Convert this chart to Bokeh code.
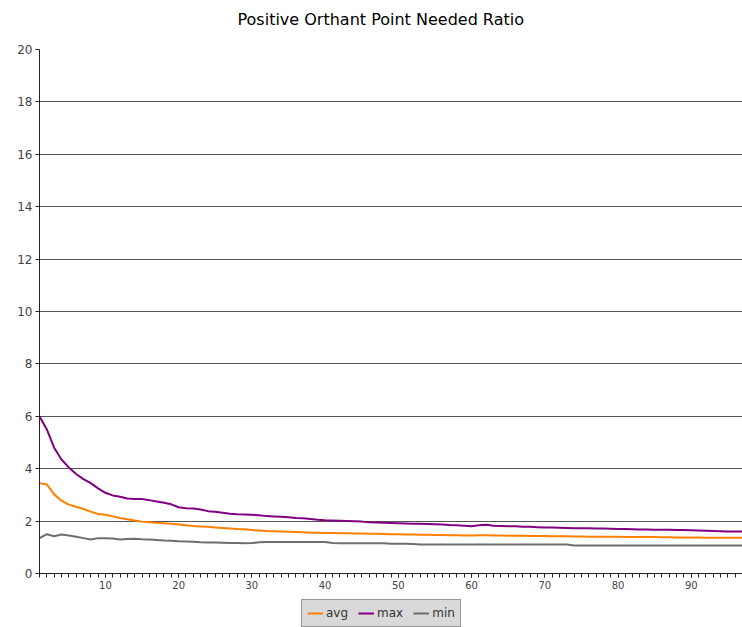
from bokeh.plotting import figure
from bokeh.models import Range1d, SingleIntervalTicker, Legend, LegendItem, Title
from bokeh.layouts import column
from bokeh.embed import file_html
from bokeh.resources import INLINE

x_vals = list(range(1, 98))

avg_vals = [3.45, 3.40, 3.02, 2.78, 2.63, 2.55, 2.46, 2.36, 2.27, 2.24,
            2.18, 2.12, 2.07, 2.02, 1.98, 1.96, 1.94, 1.92, 1.90, 1.87,
            1.84, 1.81, 1.79, 1.78, 1.76, 1.74, 1.72, 1.70, 1.69, 1.66,
            1.64, 1.62, 1.61, 1.60, 1.59, 1.58, 1.57, 1.56, 1.56, 1.55,
            1.55, 1.54, 1.54, 1.53, 1.53, 1.52, 1.52, 1.51, 1.50, 1.50,
            1.49, 1.49, 1.48, 1.48, 1.47, 1.47, 1.46, 1.46, 1.45, 1.45,
            1.46, 1.46, 1.45, 1.45, 1.44, 1.44, 1.44, 1.43, 1.43, 1.43,
            1.42, 1.42, 1.42, 1.41, 1.41, 1.40, 1.40, 1.40, 1.40, 1.40,
            1.39, 1.39, 1.39, 1.39, 1.39, 1.38, 1.38, 1.37, 1.37, 1.37,
            1.37, 1.36, 1.36, 1.36, 1.36, 1.36, 1.36]

max_vals = [6.00, 5.50, 4.80, 4.35, 4.05, 3.80, 3.60, 3.45, 3.25, 3.08,
            2.98, 2.93, 2.86, 2.84, 2.84, 2.80, 2.75, 2.70, 2.64, 2.53,
            2.49, 2.48, 2.44, 2.38, 2.36, 2.32, 2.28, 2.26, 2.25, 2.24,
            2.22, 2.19, 2.18, 2.17, 2.15, 2.12, 2.11, 2.08, 2.05, 2.03,
            2.02, 2.01, 2.00, 1.99, 1.98, 1.96, 1.95, 1.94, 1.93, 1.92,
            1.91, 1.90, 1.90, 1.89, 1.88, 1.87, 1.85, 1.84, 1.82, 1.80,
            1.84, 1.86, 1.82, 1.81, 1.80, 1.80, 1.78, 1.78, 1.77, 1.76,
            1.76, 1.75, 1.74, 1.73, 1.73, 1.73, 1.72, 1.72, 1.71, 1.70,
            1.70, 1.69, 1.68, 1.68, 1.67, 1.67, 1.67, 1.66, 1.66, 1.65,
            1.64, 1.63, 1.62, 1.61, 1.60, 1.60, 1.60]

min_vals = [1.35, 1.50, 1.42, 1.49, 1.45, 1.40, 1.35, 1.30, 1.35, 1.35,
            1.34, 1.30, 1.32, 1.33, 1.31, 1.30, 1.28, 1.26, 1.25, 1.23,
            1.22, 1.21, 1.19, 1.18, 1.18, 1.17, 1.16, 1.16, 1.15, 1.16,
            1.19, 1.20, 1.20, 1.20, 1.20, 1.20, 1.20, 1.20, 1.20, 1.20,
            1.16, 1.15, 1.15, 1.15, 1.15, 1.15, 1.15, 1.15, 1.14, 1.14,
            1.14, 1.13, 1.11, 1.11, 1.11, 1.11, 1.11, 1.11, 1.11, 1.11,
            1.11, 1.11, 1.11, 1.11, 1.11, 1.11, 1.11, 1.11, 1.11, 1.11,
            1.11, 1.11, 1.11, 1.07, 1.07, 1.07, 1.07, 1.07, 1.07, 1.07,
            1.07, 1.07, 1.07, 1.07, 1.07, 1.07, 1.07, 1.07, 1.07, 1.07,
            1.07, 1.07, 1.07, 1.07, 1.07, 1.07, 1.07]

series_names = ["avg", "max", "min"]
series_colors = ["#ff7f00", "#800080", "#6e6e6e"]
series_values = [avg_vals, max_vals, min_vals]

FONT = "DejaVu Sans"

p = figure(frame_width=703, frame_height=524, x_range=Range1d(1, 97), y_range=Range1d(0, 20),
           output_backend="svg", toolbar_location=None,
           min_border_left=39, min_border_right=0, min_border_top=49, min_border_bottom=26)

# spacer between the title and the frame
spacer = Title(text=" ", text_font_size="8px", standoff=5)
p.add_layout(spacer, "above")

p.title.text = "Positive Orthant Point Needed Ratio"
p.title.text_font = FONT
p.title.text_font_size = "16px"
p.title.text_font_style = "normal"
p.title.text_color = "#000000"
p.title.align = "left"
p.title.offset = 198
p.title.standoff = 10

p.outline_line_color = None
p.background_fill_color = "white"
p.border_fill_color = "white"

p.xgrid.grid_line_color = None
p.ygrid.grid_line_color = "#555555"
p.ygrid.grid_line_width = 1
p.ygrid.ticker = SingleIntervalTicker(interval=2)

p.yaxis.ticker = SingleIntervalTicker(interval=2, num_minor_ticks=0)
p.xaxis.ticker = SingleIntervalTicker(interval=10, num_minor_ticks=10)

for ax in (p.xaxis[0], p.yaxis[0]):
    ax.axis_line_color = "#222222"
    ax.major_tick_line_color = "#222222"
    ax.minor_tick_line_color = "#222222"
    ax.major_tick_in = 0
    ax.major_tick_out = 4
    ax.minor_tick_in = 0
    ax.minor_tick_out = 4
    ax.major_label_text_font = FONT
    ax.major_label_text_color = "#444444"
    ax.major_label_standoff = 3
p.xaxis.major_label_text_font_size = "10px"
p.yaxis.major_label_text_font_size = "12px"
p.yaxis.minor_tick_line_color = None

for vals, col in zip(series_values, series_colors):
    p.line(x_vals, vals, line_color=col, line_width=2)

# legend strip below the chart (proxy lines lie outside its 0..1 view, only the key shows)
lf = figure(width=742, height=28, x_range=Range1d(0, 1), y_range=Range1d(0, 1),
            output_backend="svg", toolbar_location=None,
            x_axis_location=None, y_axis_location=None,
            min_border_left=0, min_border_right=0, min_border_top=0, min_border_bottom=0)
lf.grid.grid_line_color = None
lf.outline_line_color = None
lf.background_fill_color = "white"
lf.border_fill_color = "white"

leg_renderers = []
for vals, col in zip(series_values, series_colors):
    leg_renderers.append(lf.line(x_vals, vals, line_color=col, line_width=2))

legend = Legend(items=[LegendItem(label=n, renderers=[r]) for n, r in zip(series_names, leg_renderers)],
                orientation="horizontal", location=(262, 0))
legend.background_fill_color = "#d9d9d9"
legend.background_fill_alpha = 1
legend.border_line_color = "#555555"
legend.label_text_font = FONT
legend.label_text_font_size = "12px"
legend.label_text_color = "#333333"
legend.glyph_width = 16
legend.glyph_height = 16
legend.label_height = 16
legend.label_width = 10
legend.label_standoff = 3
legend.spacing = 10
legend.padding = 5
legend.margin = 0
lf.add_layout(legend, "center")

layout = column(p, lf, spacing=0)

open("out.html", "w").write(file_html(layout, INLINE))
